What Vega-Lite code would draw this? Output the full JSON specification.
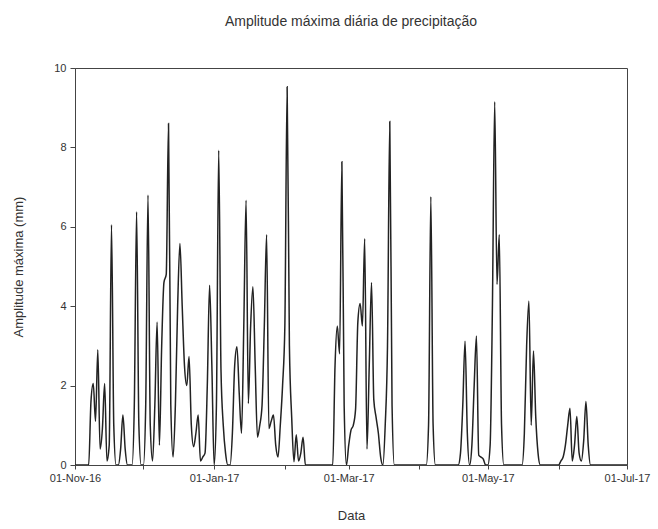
{
  "$schema": "https://vega.github.io/schema/vega-lite/v6.json",
  "width": 552,
  "height": 397,
  "autosize": {"type": "none"},
  "padding": {"left": 75, "top": 68, "right": 31, "bottom": 64},
  "background": "white",
  "config": {
    "font": "Liberation Sans",
    "view": {"stroke": "#444", "strokeWidth": 1},
    "axis": {"grid": false, "domainColor": "#444", "tickColor": "#444", "labelColor": "#333", "titleColor": "#333", "labelFont": "Liberation Sans", "titleFont": "Liberation Sans", "labelFontSize": 11, "titleFontSize": 13, "titleFontWeight": "normal"}
  },
  "title": {"text": "Amplitude máxima diária de precipitação", "fontSize": 14, "fontWeight": "normal", "color": "#333", "font": "Liberation Sans", "offset": 33, "anchor": "middle"},
  "data": {"values": [
    {"d":"2016-11-01","v":0},{"d":"2016-11-02","v":0},{"d":"2016-11-03","v":0},{"d":"2016-11-04","v":0},{"d":"2016-11-05","v":0},{"d":"2016-11-06","v":0},{"d":"2016-11-07","v":0},{"d":"2016-11-08","v":1.6},{"d":"2016-11-09","v":2.05},{"d":"2016-11-10","v":1.1},
    {"d":"2016-11-11","v":2.9},{"d":"2016-11-12","v":0.4},{"d":"2016-11-13","v":0.9},{"d":"2016-11-14","v":2.05},{"d":"2016-11-15","v":0.1},{"d":"2016-11-16","v":0.5},{"d":"2016-11-17","v":6.05},{"d":"2016-11-18","v":1.0},{"d":"2016-11-19","v":0},{"d":"2016-11-20","v":0},
    {"d":"2016-11-21","v":0.4},{"d":"2016-11-22","v":1.26},{"d":"2016-11-23","v":0.4},{"d":"2016-11-24","v":0},{"d":"2016-11-25","v":0},{"d":"2016-11-26","v":0},{"d":"2016-11-27","v":1.5},{"d":"2016-11-28","v":6.38},{"d":"2016-11-29","v":1.0},{"d":"2016-11-30","v":0},
    {"d":"2016-12-01","v":0},{"d":"2016-12-02","v":1.5},{"d":"2016-12-03","v":6.8},{"d":"2016-12-04","v":1.0},{"d":"2016-12-05","v":0.1},{"d":"2016-12-06","v":1.5},{"d":"2016-12-07","v":3.6},{"d":"2016-12-08","v":0.5},{"d":"2016-12-09","v":3.0},{"d":"2016-12-10","v":4.6},
    {"d":"2016-12-11","v":4.8},{"d":"2016-12-12","v":8.6},{"d":"2016-12-13","v":1.5},{"d":"2016-12-14","v":0.2},{"d":"2016-12-15","v":1.5},{"d":"2016-12-16","v":4.0},{"d":"2016-12-17","v":5.58},{"d":"2016-12-18","v":4.0},{"d":"2016-12-19","v":2.5},{"d":"2016-12-20","v":2.0},
    {"d":"2016-12-21","v":2.73},{"d":"2016-12-22","v":1.0},{"d":"2016-12-23","v":0.46},{"d":"2016-12-24","v":0.8},{"d":"2016-12-25","v":1.26},{"d":"2016-12-26","v":0.1},{"d":"2016-12-27","v":0.2},{"d":"2016-12-28","v":0.3},{"d":"2016-12-29","v":2.0},{"d":"2016-12-30","v":4.53},{"d":"2016-12-31","v":2.5},
    {"d":"2017-01-01","v":0},{"d":"2017-01-02","v":1.5},{"d":"2017-01-03","v":7.93},{"d":"2017-01-04","v":2.4},{"d":"2017-01-05","v":1.0},{"d":"2017-01-06","v":0.3},{"d":"2017-01-07","v":0},{"d":"2017-01-08","v":0},{"d":"2017-01-09","v":0.8},{"d":"2017-01-10","v":2.5},
    {"d":"2017-01-11","v":2.98},{"d":"2017-01-12","v":1.8},{"d":"2017-01-13","v":0.8},{"d":"2017-01-14","v":3.5},{"d":"2017-01-15","v":6.67},{"d":"2017-01-16","v":1.55},{"d":"2017-01-17","v":3.5},{"d":"2017-01-18","v":4.49},{"d":"2017-01-19","v":2.5},{"d":"2017-01-20","v":0.7},
    {"d":"2017-01-21","v":1.0},{"d":"2017-01-22","v":1.5},{"d":"2017-01-23","v":3.5},{"d":"2017-01-24","v":5.8},{"d":"2017-01-25","v":0.92},{"d":"2017-01-26","v":1.1},{"d":"2017-01-27","v":1.26},{"d":"2017-01-28","v":0.5},{"d":"2017-01-29","v":0.2},{"d":"2017-01-30","v":1.0},{"d":"2017-01-31","v":2.0},
    {"d":"2017-02-01","v":3.5},{"d":"2017-02-02","v":9.53},{"d":"2017-02-03","v":3.0},{"d":"2017-02-04","v":1.2},{"d":"2017-02-05","v":0.08},{"d":"2017-02-06","v":0.76},{"d":"2017-02-07","v":0.1},{"d":"2017-02-08","v":0.3},{"d":"2017-02-09","v":0.7},{"d":"2017-02-10","v":0},
    {"d":"2017-02-11","v":0},{"d":"2017-02-12","v":0},{"d":"2017-02-13","v":0},{"d":"2017-02-14","v":0},{"d":"2017-02-15","v":0},{"d":"2017-02-16","v":0},{"d":"2017-02-17","v":0},{"d":"2017-02-18","v":0},{"d":"2017-02-19","v":0},{"d":"2017-02-20","v":0},
    {"d":"2017-02-21","v":0},{"d":"2017-02-22","v":0},{"d":"2017-02-23","v":2.5},{"d":"2017-02-24","v":3.5},{"d":"2017-02-25","v":2.8},{"d":"2017-02-26","v":7.64},{"d":"2017-02-27","v":1.5},{"d":"2017-02-28","v":0},
    {"d":"2017-03-01","v":0.5},{"d":"2017-03-02","v":0.88},{"d":"2017-03-03","v":1.0},{"d":"2017-03-04","v":1.4},{"d":"2017-03-05","v":3.6},{"d":"2017-03-06","v":4.07},{"d":"2017-03-07","v":3.5},{"d":"2017-03-08","v":5.7},{"d":"2017-03-09","v":0.4},{"d":"2017-03-10","v":2.5},
    {"d":"2017-03-11","v":4.6},{"d":"2017-03-12","v":1.64},{"d":"2017-03-13","v":1.2},{"d":"2017-03-14","v":0.8},{"d":"2017-03-15","v":0.2},{"d":"2017-03-16","v":0},{"d":"2017-03-17","v":1.0},{"d":"2017-03-18","v":3.0},{"d":"2017-03-19","v":8.65},{"d":"2017-03-20","v":1.5},
    {"d":"2017-03-21","v":0},{"d":"2017-03-22","v":0},{"d":"2017-03-23","v":0},{"d":"2017-03-24","v":0},{"d":"2017-03-25","v":0},{"d":"2017-03-26","v":0},{"d":"2017-03-27","v":0},{"d":"2017-03-28","v":0},{"d":"2017-03-29","v":0},{"d":"2017-03-30","v":0},{"d":"2017-03-31","v":0},
    {"d":"2017-04-01","v":0},{"d":"2017-04-02","v":0},{"d":"2017-04-03","v":0},{"d":"2017-04-04","v":0},{"d":"2017-04-05","v":1.0},{"d":"2017-04-06","v":6.76},{"d":"2017-04-07","v":1.0},{"d":"2017-04-08","v":0},{"d":"2017-04-09","v":0},{"d":"2017-04-10","v":0},
    {"d":"2017-04-11","v":0},{"d":"2017-04-12","v":0},{"d":"2017-04-13","v":0},{"d":"2017-04-14","v":0},{"d":"2017-04-15","v":0},{"d":"2017-04-16","v":0},{"d":"2017-04-17","v":0},{"d":"2017-04-18","v":0},{"d":"2017-04-19","v":0.3},{"d":"2017-04-20","v":1.5},
    {"d":"2017-04-21","v":3.12},{"d":"2017-04-22","v":0.8},{"d":"2017-04-23","v":0},{"d":"2017-04-24","v":0.5},{"d":"2017-04-25","v":2.0},{"d":"2017-04-26","v":3.25},{"d":"2017-04-27","v":0.25},{"d":"2017-04-28","v":0.2},{"d":"2017-04-29","v":0.15},{"d":"2017-04-30","v":0},
    {"d":"2017-05-01","v":0},{"d":"2017-05-02","v":0.5},{"d":"2017-05-03","v":4.0},{"d":"2017-05-04","v":9.15},{"d":"2017-05-05","v":4.55},{"d":"2017-05-06","v":5.8},{"d":"2017-05-07","v":1.0},{"d":"2017-05-08","v":0},{"d":"2017-05-09","v":0},{"d":"2017-05-10","v":0},
    {"d":"2017-05-11","v":0},{"d":"2017-05-12","v":0},{"d":"2017-05-13","v":0},{"d":"2017-05-14","v":0},{"d":"2017-05-15","v":0},{"d":"2017-05-16","v":0},{"d":"2017-05-17","v":0.8},{"d":"2017-05-18","v":3.0},{"d":"2017-05-19","v":4.13},{"d":"2017-05-20","v":1.0},
    {"d":"2017-05-21","v":2.87},{"d":"2017-05-22","v":1.2},{"d":"2017-05-23","v":0.3},{"d":"2017-05-24","v":0},{"d":"2017-05-25","v":0},{"d":"2017-05-26","v":0},{"d":"2017-05-27","v":0},{"d":"2017-05-28","v":0},{"d":"2017-05-29","v":0},{"d":"2017-05-30","v":0},{"d":"2017-05-31","v":0},
    {"d":"2017-06-01","v":0},{"d":"2017-06-02","v":0.1},{"d":"2017-06-03","v":0.2},{"d":"2017-06-04","v":0.5},{"d":"2017-06-05","v":1.0},{"d":"2017-06-06","v":1.43},{"d":"2017-06-07","v":0.1},{"d":"2017-06-08","v":0.5},{"d":"2017-06-09","v":1.22},{"d":"2017-06-10","v":0.3},
    {"d":"2017-06-11","v":0.1},{"d":"2017-06-12","v":0.6},{"d":"2017-06-13","v":1.6},{"d":"2017-06-14","v":0.5},{"d":"2017-06-15","v":0},{"d":"2017-06-16","v":0},{"d":"2017-06-17","v":0},{"d":"2017-06-18","v":0},{"d":"2017-06-19","v":0},{"d":"2017-06-20","v":0},
    {"d":"2017-06-21","v":0},{"d":"2017-06-22","v":0},{"d":"2017-06-23","v":0},{"d":"2017-06-24","v":0},{"d":"2017-06-25","v":0},{"d":"2017-06-26","v":0},{"d":"2017-06-27","v":0},{"d":"2017-06-28","v":0},{"d":"2017-06-29","v":0},{"d":"2017-06-30","v":0},{"d":"2017-07-01","v":0}
  ]},
  "mark": {"type": "line", "color": "#222", "strokeWidth": 1.5, "clip": true, "interpolate": "monotone"},
  "encoding": {
    "x": {
      "field": "d", "type": "temporal", "title": "Data",
      "scale": {"type": "utc", "domain": [{"year": 2016, "month": 11, "date": 1, "utc": true}, {"year": 2017, "month": 7, "date": 1, "utc": true}]},
      "axis": {
        "values": [
          {"year": 2016, "month": 11, "date": 1, "utc": true},
          {"year": 2016, "month": 12, "date": 1, "utc": true},
          {"year": 2017, "month": 1, "date": 1, "utc": true},
          {"year": 2017, "month": 2, "date": 1, "utc": true},
          {"year": 2017, "month": 3, "date": 1, "utc": true},
          {"year": 2017, "month": 4, "date": 1, "utc": true},
          {"year": 2017, "month": 5, "date": 1, "utc": true},
          {"year": 2017, "month": 6, "date": 1, "utc": true},
          {"year": 2017, "month": 7, "date": 1, "utc": true}
        ],
        "labelExpr": "utcmonth(datum.value) % 2 == 0 ? utcFormat(datum.value, '%d-%b-%y') : ''",
        "tickSize": 4, "labelPadding": 3, "titlePadding": 26, "labelFlush": false, "labelOverlap": false
      }
    },
    "y": {
      "field": "v", "type": "quantitative", "title": "Amplitude máxima (mm)",
      "scale": {"domain": [0, 10], "nice": false},
      "axis": {"values": [0, 2, 4, 6, 8, 10], "tickSize": 5, "labelPadding": 4, "titlePadding": 28}
    }
  }
}
